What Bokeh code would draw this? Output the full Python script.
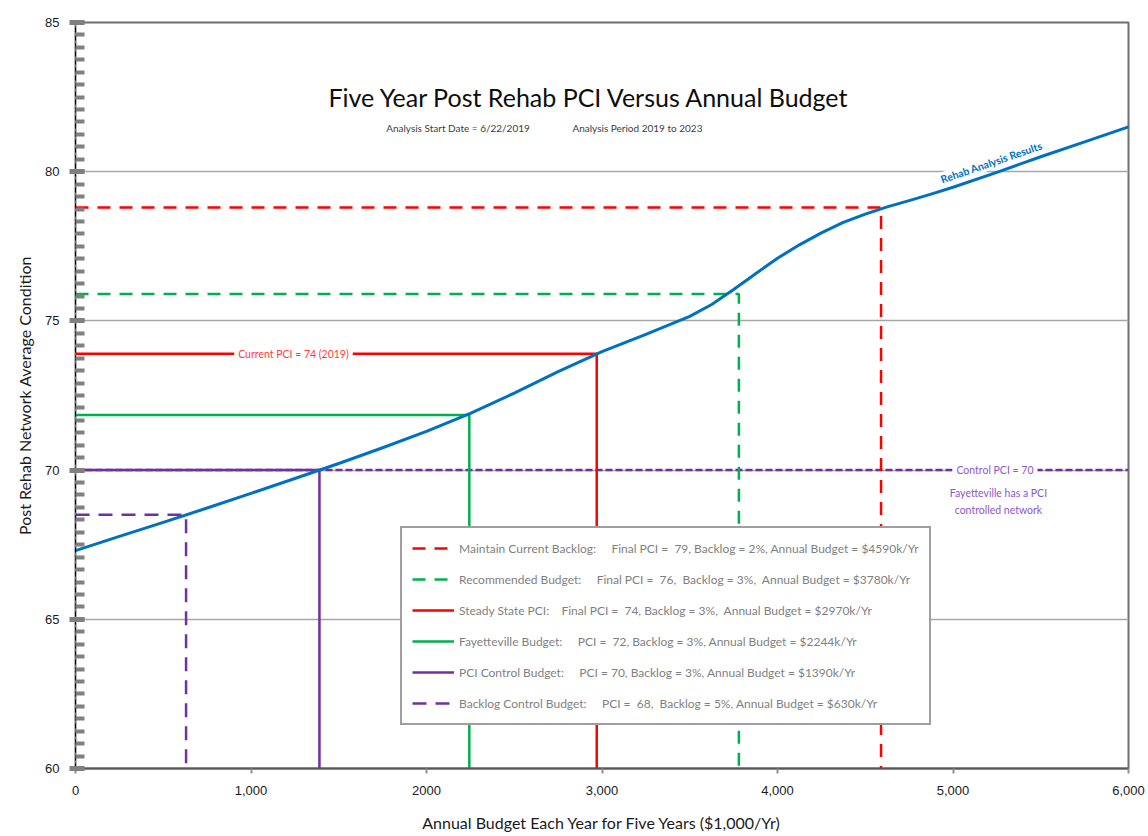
from bokeh.plotting import figure
from bokeh.models import Range1d, FixedTicker, Label, Legend, LegendItem
from bokeh.embed import file_html
from bokeh.resources import INLINE

# ---------------- data ----------------
budget_curve = [0, 250, 500, 750, 1000, 1250, 1500, 1750, 2000, 2250, 2500, 2750,
                3000, 3250, 3500, 3625, 3750, 3875, 4000, 4125, 4250, 4375, 4500,
                4625, 4750, 4875, 5000, 5250, 5500, 5750, 6000]
pci_curve = [67.3, 67.78, 68.25, 68.73, 69.22, 69.72, 70.22, 70.75, 71.3, 71.9, 72.58, 73.3,
             73.97, 74.55, 75.15, 75.55, 76.05, 76.58, 77.1, 77.55, 77.95, 78.3, 78.58,
             78.82, 79.03, 79.25, 79.48, 79.98, 80.5, 81.0, 81.5]

scenario_labels = [
    "Maintain Current Backlog:     Final PCI =  79, Backlog = 2%, Annual Budget = $4590k/Yr",
    "Recommended Budget:     Final PCI =  76,  Backlog = 3%,  Annual Budget = $3780k/Yr",
    "Steady State PCI:    Final PCI =  74, Backlog = 3%,  Annual Budget = $2970k/Yr",
    "Fayetteville Budget:     PCI =  72, Backlog = 3%, Annual Budget = $2244k/Yr",
    "PCI Control Budget:     PCI = 70, Backlog = 3%, Annual Budget = $1390k/Yr",
    "Backlog Control Budget:     PCI =  68,  Backlog = 5%, Annual Budget = $630k/Yr",
]
scenario_budget = [4590, 3780, 2970, 2244, 1390, 630]
scenario_pci = [78.8, 75.9, 73.9, 71.85, 70.0, 68.5]

control_pci = 70
x_ticks = [0, 1000, 2000, 3000, 4000, 5000, 6000]
x_tick_labels = ["0", "1,000", "2000", "3,000", "4,000", "5,000", "6,000"]
y_ticks = [60, 65, 70, 75, 80, 85]
grid_values = [65, 70, 75, 80]

X_MIN, X_MAX, Y_MIN, Y_MAX = 0, 6000, 60, 85

# ---------------- styles ----------------
scenario_colors = ["#ff0000", "#00b050", "#ff0000", "#00b050", "#7030a0", "#7030a0"]
scenario_dashes = ["13 9", "13 9", "solid", "solid", "solid", "14 9"]

p = figure(frame_width=1053, frame_height=746,
           x_range=Range1d(X_MIN, X_MAX), y_range=Range1d(Y_MIN, Y_MAX),
           output_backend="svg", toolbar_location=None,
           min_border_left=75, min_border_right=20, min_border_top=22, min_border_bottom=68)
p.background_fill_color = "white"
p.border_fill_color = "white"
p.outline_line_color = "#6f6f6f"
p.outline_line_width = 2

# grid
p.xgrid.visible = False
p.ygrid.ticker = FixedTicker(ticks=grid_values)
p.ygrid.grid_line_color = "#a6a6a6"
p.ygrid.grid_line_width = 1.5

# axes
minor_y = [Y_MIN + i * 5 / 12 for i in range(61)]
p.yaxis.ticker = FixedTicker(ticks=y_ticks, minor_ticks=minor_y)
p.xaxis.ticker = FixedTicker(ticks=x_ticks, minor_ticks=[])
p.xaxis.major_label_overrides = {t: l for t, l in zip(x_ticks, x_tick_labels)}

for ax in (p.xaxis[0], p.yaxis[0]):
    ax.major_label_text_font = "Liberation Sans"
    ax.major_label_text_font_size = "13px"
    ax.major_label_text_color = "#1a1a1a"
    ax.axis_label_text_font = "Lato"
    ax.axis_label_text_font_size = "16px"
    ax.axis_label_text_font_style = "normal"
    ax.axis_label_text_color = "#1a1a1a"

p.xaxis.axis_label = "Annual Budget Each Year for Five Years ($1,000/Yr)"
p.xaxis.axis_line_color = "#595959"
p.xaxis.axis_line_width = 2
p.xaxis.major_tick_in = 0
p.xaxis.major_tick_out = 5
p.xaxis.major_tick_line_color = "#909090"
p.xaxis.major_tick_line_width = 2
p.xaxis.major_label_standoff = 12
p.xaxis.axis_label_standoff = 15

p.yaxis.axis_label = "Post Rehab Network Average Condition"
p.yaxis.axis_line_color = "black"
p.yaxis.axis_line_dash = "5 3"
p.yaxis.axis_line_width = 1
p.yaxis.major_tick_in = 9
p.yaxis.major_tick_out = 6
p.yaxis.major_tick_line_color = "#808080"
p.yaxis.major_tick_line_width = 5
p.yaxis.minor_tick_in = 9
p.yaxis.minor_tick_out = 0
p.yaxis.minor_tick_line_color = "#808080"
p.yaxis.minor_tick_line_width = 4
p.yaxis.major_label_standoff = 10
p.yaxis.axis_label_standoff = 8

# control PCI dashed line across the chart
p.line([X_MIN, X_MAX], [control_pci, control_pci], line_color="#7030a0",
       line_width=2.5, line_dash="7 3")

# scenario lines
items = []
for lab, b, v, c, d in zip(scenario_labels, scenario_budget, scenario_pci,
                           scenario_colors, scenario_dashes):
    r = p.line([X_MIN, b, b], [v, v, Y_MIN], line_color=c, line_width=2.5, line_dash=d)
    items.append(LegendItem(label=lab, renderers=[r]))

# rehab analysis curve
p.line(budget_curve, pci_curve, line_color="#0070c0", line_width=3, line_join="round")

# texts
def lbl(x, y, text, size, color, font="Lato", style="normal", bg=None, angle=0.0, pad=0):
    kw = {}
    if bg is not None:
        kw = dict(background_fill_color=bg, background_fill_alpha=1.0, padding=pad)
    p.add_layout(Label(x=x, y=y, text=text, text_font=font, text_font_size=size,
                       text_color=color, text_font_style=style, text_align="center",
                       text_baseline="middle", angle=angle, **kw))

lbl(2929, 82.49, "Five Year Post Rehab PCI Versus Annual Budget", "25px", "#0d0d0d")
lbl(2194, 81.48, "Analysis Start Date =   6/22/2019", "10px", "#404040")
lbl(3202, 81.48, "Analysis Period 2019 to 2023", "10px", "#404040")
lbl(1242, 73.9, "Current PCI = 74 (2019)", "10.5px", "#ff3b3b", bg="white", pad=4)
lbl(5239, 70.0, "Control PCI = 70", "10.5px", "#8e58c8", bg="white", pad=4)
lbl(5259, 69.22, "Fayetteville has a PCI", "10.5px", "#8e58c8")
lbl(5259, 68.65, "controlled network", "10.5px", "#8e58c8")
lbl(5219, 80.31, "Rehab Analysis Results", "10.5px", "#0070c0", style="bold",
    bg="white", angle=0.33, pad=1)

legend = Legend(items=items, location=(325, 43))
legend.label_text_font = "Lato"
legend.label_text_font_size = "12px"
legend.label_text_color = "#7f7f7f"
legend.glyph_width = 42
legend.glyph_height = 20
legend.label_height = 20
legend.spacing = 11
legend.padding = 10
legend.margin = 0
legend.label_standoff = 5
legend.border_line_color = "#404040"
legend.border_line_width = 2
legend.background_fill_color = "white"
legend.background_fill_alpha = 1.0
p.add_layout(legend, "center")

open("out.html", "w").write(file_html(p, INLINE))
